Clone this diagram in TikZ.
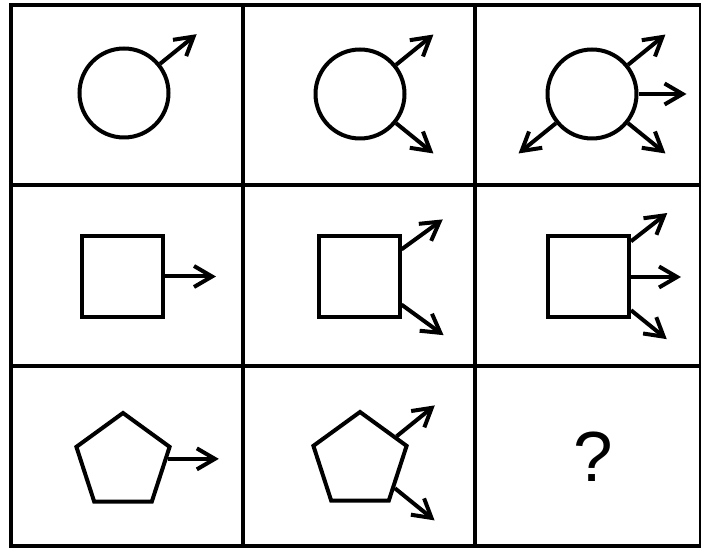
\documentclass[tikz,border=0pt]{standalone}
\usepackage{fontspec}
\newfontfamily\qfont{Liberation Sans}
\usetikzlibrary{positioning,shapes.geometric,arrows.meta}

\begin{document}
\begin{tikzpicture}[x=1pt,y=1pt,
    grid/.style={line width=3.6pt},
    fig/.style={draw,line width=4pt,inner sep=0pt},
    ray/.style={line width=4pt,-{Straight Barb[length=18pt,width=21pt]}}]
  \useasboundingbox (0,0) rectangle (701,548);
  % table
  \draw[grid] (11,2) rectangle (701,543);
  \foreach \x in {243,475}
    \draw[grid] (\x,2) -- (\x,543);
  \foreach \y in {182,363}
    \draw[grid] (11,\y) -- (701,\y);
  % row 1: circles
  \node[fig,circle,minimum size=89pt] (c11) at (124,455) {};
  \node[fig,circle,minimum size=89pt] (c12) at (360,454) {};
  \node[fig,circle,minimum size=89pt] (c13) at (592,454) {};
  \draw[ray] (c11.39) -- ++(39:47);
  \foreach \a in {39,-39}
    \draw[ray] (c12.\a) -- ++(\a:48);
  \foreach \a in {39,0,-39,219}
    \draw[ray] (c13.\a) -- ++(\a:48);
  % row 2: squares
  \node[fig,rectangle,minimum size=81pt] (sq21) at (122.5,271.5) {};
  \node[fig,rectangle,minimum size=81pt] (sq22) at (359,271) {};
  \node[fig,rectangle,minimum size=81pt] (sq23) at (588.5,271) {};
  \draw[ray] (sq21.east) -- ++(0:51);
  \draw[ray] (sq22.33) -- ++(36:51);
  \draw[ray] (sq22.-33) -- ++(-36:52);
  \draw[ray] (sq23.40) -- ++(38:46);
  \draw[ray] (sq23.east) -- ++(0:50);
  \draw[ray] (sq23.-38) -- ++(-39:46);
  % row 3: pentagons
  \node[fig,regular polygon,regular polygon sides=5,minimum size=98pt] (pg31) at (123,86) {};
  \node[fig,regular polygon,regular polygon sides=5,minimum size=98pt] (pg32) at (360,87) {};
  \draw[ray] (pg31.4) -- ++(0:51);
  \draw[ray] (pg32.34) -- ++(39:49);
  \draw[ray] (pg32.-38) -- ++(-39:51);
  \node[font=\qfont\fontsize{71}{80}\selectfont,inner sep=0pt] (ask) at (593,91) {?};
\end{tikzpicture}
\end{document}
